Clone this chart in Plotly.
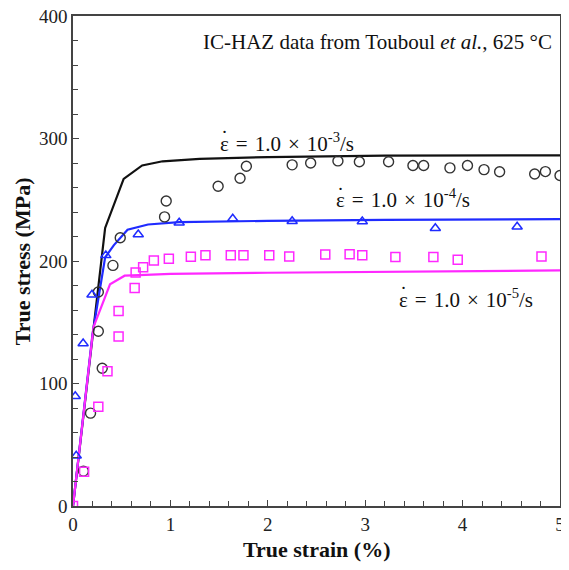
import plotly.graph_objects as go

# ---- experimental data (Touboul et al., IC-HAZ, 625 C) ----
exp3_strain = [0.107, 0.18, 0.26, 0.26, 0.30, 0.41, 0.485, 0.94, 0.957, 1.49, 1.715, 1.78,
               2.25, 2.44, 2.72, 2.94, 3.24, 3.49, 3.60, 3.87, 4.05, 4.22, 4.38, 4.74, 4.85, 5.0]
exp3_stress = [28.5, 75.8, 142.6, 174.7, 112.5, 196.4, 219.0, 236.0, 249.0, 261.0, 267.6, 277.3,
               278.5, 280.0, 281.7, 281.0, 281.0, 277.9, 277.9, 276.0, 277.9, 274.6, 272.8, 271.0, 273.0, 269.8]

exp4_strain = [0.023, 0.033, 0.104, 0.195, 0.337, 0.67, 1.09, 1.64, 2.25, 2.97, 3.72, 4.56]
exp4_stress = [89.6, 41.0, 132.6, 172.5, 204.6, 221.7, 231.2, 234.5, 232.5, 232.3, 226.8, 228.0]

exp5_strain = [0.0, 0.114, 0.26, 0.354, 0.468, 0.468, 0.633, 0.643, 0.72, 0.83, 0.984, 1.21, 1.36,
               1.62, 1.75, 2.015, 2.22, 2.59, 2.84, 2.97, 3.31, 3.70, 3.95, 4.81]
exp5_stress = [0.0, 28.0, 81.0, 110.0, 138.3, 159.2, 177.9, 190.7, 195.0, 200.5, 201.9, 203.5, 204.6,
               204.6, 204.6, 204.6, 203.7, 205.4, 205.6, 204.6, 203.2, 203.2, 201.0, 203.7]

# ---- model curves ----
mod3_strain = [0.0, 0.33, 0.52, 0.71, 0.92, 1.3, 2.0, 3.2, 5.0]
mod3_stress = [0.0, 227.0, 267.0, 278.0, 281.4, 283.4, 284.8, 286.0, 286.3]

mod4_strain = [0.0, 0.2, 0.33, 0.42, 0.56, 0.77, 1.09, 2.0, 3.2, 5.0]
mod4_stress = [0.0, 140.0, 203.0, 213.0, 225.5, 229.8, 231.7, 232.8, 233.5, 234.2]

mod5_strain = [0.0, 0.21, 0.38, 0.53, 0.68, 1.0, 2.0, 3.2, 5.0]
mod5_stress = [0.0, 146.0, 181.0, 188.0, 188.5, 189.5, 190.4, 191.2, 192.3]

SP = "\u2004"
labels = [f"ε{SP}={SP}1.0{SP}×{SP}10<sup>-3</sup>/s",
          f"ε{SP}={SP}1.0{SP}×{SP}10<sup>-4</sup>/s",
          f"ε{SP}={SP}1.0{SP}×{SP}10<sup>-5</sup>/s"]
label_x = [1.49, 2.68, 3.33]
label_y = [297, 251, 169.5]
title_text = "IC-HAZ data from Touboul <i>et al.</i>, 625 °C"
x_title = "<b>True strain (%)</b>"
y_title = "<b>True stress (MPa)</b>"

BLACK = "#111111"
BLUE = "#1f2bff"
MAG = "#ff28ff"
SERIF = "Liberation Serif, Times New Roman, serif"

fig = go.Figure()
fig.add_trace(go.Scatter(x=mod3_strain, y=mod3_stress, mode="lines",
                         line=dict(color=BLACK, width=2.2), showlegend=False))
fig.add_trace(go.Scatter(x=mod4_strain, y=mod4_stress, mode="lines",
                         line=dict(color=BLUE, width=2.2), showlegend=False))
fig.add_trace(go.Scatter(x=mod5_strain, y=mod5_stress, mode="lines",
                         line=dict(color=MAG, width=2.2), showlegend=False))
fig.add_trace(go.Scatter(x=exp3_strain, y=exp3_stress, mode="markers",
                         marker=dict(symbol="circle-open", size=10, color="#333333", line=dict(width=1.4)),
                         showlegend=False))
fig.add_trace(go.Scatter(x=exp4_strain, y=exp4_stress, mode="markers",
                         marker=dict(symbol="triangle-up-open", size=9, color=BLUE, line=dict(width=1.5)),
                         showlegend=False))
fig.add_trace(go.Scatter(x=exp5_strain, y=exp5_stress, mode="markers",
                         marker=dict(symbol="square-open", size=9, color=MAG, line=dict(width=1.5)),
                         showlegend=False))

ann_font = dict(family=SERIF, size=21, color="#111111")
fig.add_annotation(x=4.94, y=378.4, text=title_text, showarrow=False, xanchor="right",
                   yanchor="middle", font=ann_font)
for lx, ly, lt in zip(label_x, label_y, labels):
    fig.add_annotation(x=lx, y=ly, text=lt, showarrow=False, xanchor="left",
                       yanchor="middle", font=ann_font)
    # dot above epsilon (strain rate)
    fig.add_annotation(x=lx, y=ly, text="˙", showarrow=False, xanchor="left",
                       yanchor="middle", xshift=1, yshift=4, font=ann_font)

# axis titles
title_font = dict(family=SERIF, size=22, color="#111111")
fig.add_annotation(xref="paper", yref="paper", x=0.5, y=-0.088, text=x_title, showarrow=False,
                   xanchor="center", yanchor="middle", font=title_font)
fig.add_annotation(xref="paper", yref="paper", x=-0.104, y=0.5, text=y_title, showarrow=False,
                   xanchor="center", yanchor="middle", textangle=-90, font=title_font)

axis_common = dict(showgrid=False, zeroline=False, showline=True, linecolor="#444444",
                   linewidth=1.5, mirror=True, ticks="inside", ticklen=6, tickwidth=1.2,
                   tickcolor="#444444", automargin=False, ticklabeloverflow="allow",
                   tickfont=dict(family=SERIF, size=19, color="#222222"))

fig.update_xaxes(range=[0, 5], dtick=1, tick0=0,
                 minor=dict(ticks="inside", dtick=0.2, ticklen=5, tickcolor="#444444", tickwidth=1.2),
                 **axis_common)
fig.update_yaxes(range=[0, 400], dtick=100, tick0=0,
                 minor=dict(ticks="inside", dtick=20, ticklen=5, tickcolor="#444444", tickwidth=1.2),
                 **axis_common)

# page body has an 8px margin, so the figure is sized to fit the 569x570 window
fig.update_layout(width=553, height=554, margin=dict(l=65, r=1, t=8, b=56),
                  plot_bgcolor="white", paper_bgcolor="white")

fig.write_html("out.html")
